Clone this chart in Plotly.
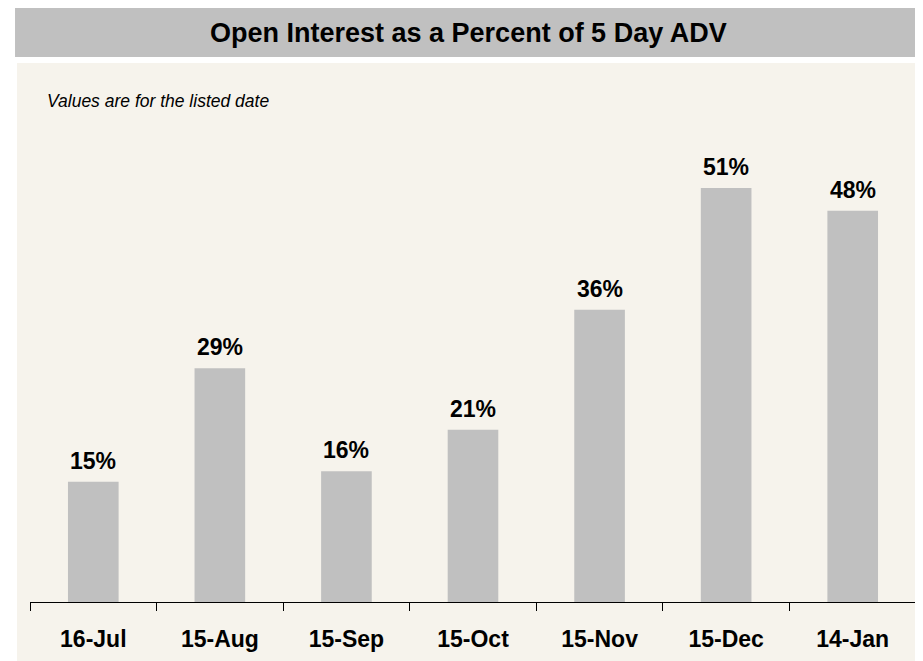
import plotly.graph_objects as go

categories = ["16-Jul", "15-Aug", "15-Sep", "15-Oct", "15-Nov", "15-Dec", "14-Jan"]
values = [14.8, 28.8, 16.1, 21.2, 36.0, 51.0, 48.2]
title_text = "Open Interest as a Percent of 5 Day ADV"
subtitle_text = "Values are for the listed date"

BAR = "#C0C0C0"
BEIGE = "#F6F3EC"
FONT = "Liberation Sans, Arial, sans-serif"

fig = go.Figure()
fig.add_trace(go.Bar(
    x=categories, y=values, marker=dict(color=BAR, line=dict(width=0)),
    hoverinfo="skip", showlegend=False,
))

for c, v in zip(categories, values):
    fig.add_annotation(
        x=c, y=v, xref="x", yref="y", text=f"<b>{v:.0f}%</b>",
        showarrow=False, yanchor="bottom", yshift=6,
        font=dict(family=FONT, size=23, color="#000000"),
    )

# background panels
fig.add_shape(type="rect", xref="paper", yref="paper", x0=-0.0147, x1=1.03,
              y0=-0.16, y1=1.1925, fillcolor=BEIGE, line=dict(width=0), layer="below")
fig.add_shape(type="rect", xref="paper", yref="paper", x0=-0.0169, x1=1.03,
              y0=1.2058, y1=1.3164, fillcolor=BAR, line=dict(width=0), layer="below")

fig.add_annotation(x=0.4949, y=1.259, xref="paper", yref="paper",
                   text=f"<b>{title_text}</b>", showarrow=False,
                   xanchor="center", yanchor="middle",
                   font=dict(family=FONT, size=27, color="#000000"))
fig.add_annotation(x=0.0169, y=1.108, xref="paper", yref="paper",
                   text=f"<i>{subtitle_text}</i>", showarrow=False,
                   xanchor="left", yanchor="middle",
                   font=dict(family=FONT, size=17.5, color="#000000"))

fig.update_layout(
    width=923, height=661,
    margin=dict(l=22, r=15, t=142, b=67),
    paper_bgcolor="white", plot_bgcolor="rgba(0,0,0,0)",
    bargap=0.6,
    xaxis=dict(
        showline=True, linecolor="#000000", linewidth=1,
        ticks="outside", ticklen=8, tickcolor="#000000", tickwidth=1,
        tickson="boundaries", showgrid=False, zeroline=False,
        tickfont=dict(family=FONT, size=23, color="#000000", weight="bold"),
        ticklabelstandoff=16,
    ),
    yaxis=dict(range=[0, 55.67], visible=False, showgrid=False, zeroline=False),
)

fig.write_html("out.html")
